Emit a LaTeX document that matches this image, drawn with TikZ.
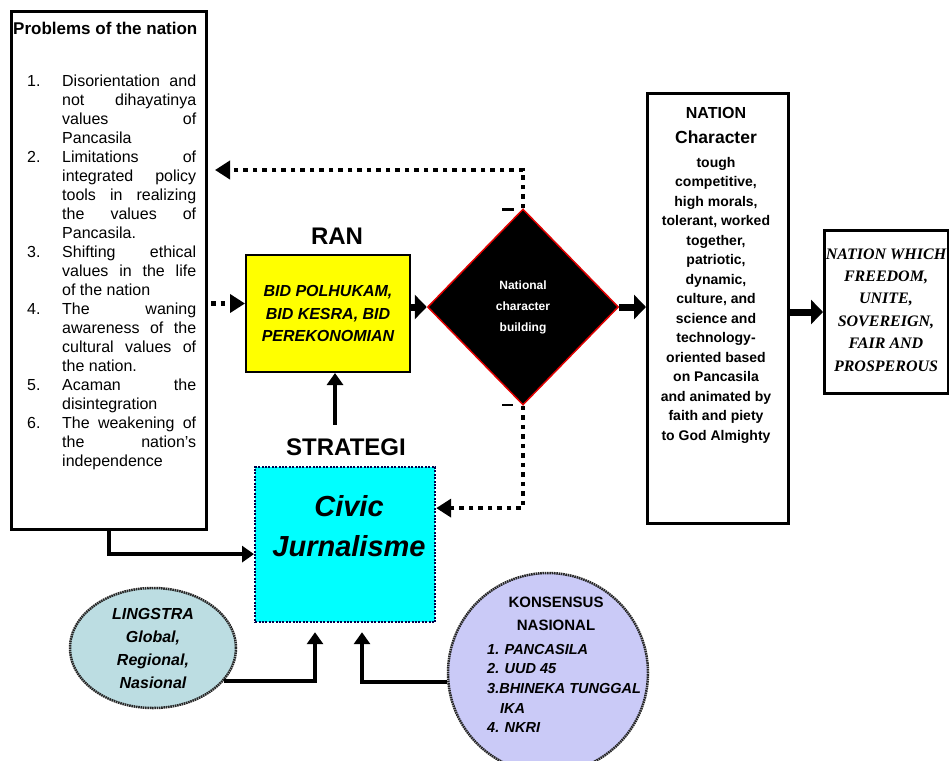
\documentclass[tikz,border=0pt]{standalone}
\usepackage{fontspec}
\setmainfont{Liberation Sans}
\newfontfamily\timesf{Liberation Serif}
\usetikzlibrary{shapes.geometric,arrows.meta,calc}
\definecolor{ylw}{HTML}{FFFF00}
\definecolor{cyn}{HTML}{00FFFF}
\definecolor{tealfill}{HTML}{BCDDE2}
\definecolor{lavfill}{HTML}{CACAF7}
\definecolor{redb}{HTML}{E00000}
\newcommand{\jline}[1]{\makebox[134pt][s]{#1}}
\newcommand{\lline}[1]{\makebox[134pt][l]{#1}}
\newcommand{\inum}[1]{\makebox[35pt][l]{#1}}
\begin{document}
\begin{tikzpicture}[x=1pt,y=-1pt,
  tarr/.style={line width=7pt,-{Triangle[length=12pt,width=24pt]}},
  marr/.style={line width=4pt,-{Triangle[length=12pt,width=16pt]}},
  darr/.style={line width=4.5pt,dash pattern=on 4.5pt off 5pt,-{Triangle[length=15pt,width=18pt]}},
  bigbox/.style={draw,line width=3pt,inner sep=0,anchor=north west},
  roughb/.style={draw=black!85,line width=2.5pt,dash pattern=on 1.6pt off 0.7pt}]
\fill[white] (0,0) rectangle (949,760);
\useasboundingbox (0,0) rectangle (949,760);

% Problems box
\node[bigbox,minimum width=195pt,minimum height=518pt] (prob) at (10,10) {};
\node[anchor=base west,inner sep=0,font=\bfseries\fontsize{17}{20}\selectfont] (probt) at (13,35) {Problems of the nation};
\node[anchor=base west,inner sep=0] (probl) at (27,86) {\parbox[t]{172pt}{\fontsize{16}{19}\selectfont
\inum{1.}\jline{Disorientation and}\\
\inum{}\jline{not dihayatinya}\\
\inum{}\jline{values of}\\
\inum{}\lline{Pancasila}\\
\inum{2.}\jline{Limitations of}\\
\inum{}\jline{integrated policy}\\
\inum{}\jline{tools in realizing}\\
\inum{}\jline{the values of}\\
\inum{}\lline{Pancasila.}\\
\inum{3.}\jline{Shifting ethical}\\
\inum{}\jline{values in the life}\\
\inum{}\lline{of the nation}\\
\inum{4.}\jline{The waning}\\
\inum{}\jline{awareness of the}\\
\inum{}\jline{cultural values of}\\
\inum{}\lline{the nation.}\\
\inum{5.}\jline{Acaman the}\\
\inum{}\lline{disintegration}\\
\inum{6.}\jline{The weakening of}\\
\inum{}\jline{the nation’s}\\
\inum{}\lline{independence}}};

% RAN
\node[font=\bfseries\fontsize{24}{28}\selectfont] (ran) at (337,236) {RAN};
\node[draw,line width=2pt,fill=ylw,minimum width=164pt,minimum height=117pt,inner sep=0,align=center,
  font=\bfseries\itshape\fontsize{16}{22.5}\selectfont] (yel) at (328,313.5) {BID POLHUKAM,\\BID KESRA, BID\\PEREKONOMIAN};

% Diamond
\node[diamond,draw=redb,line width=1.5pt,fill=black,minimum width=191pt,minimum height=196pt,inner sep=0,
  text=white,align=center,font=\bfseries\fontsize{12}{21}\selectfont] (dia) at (523,307) {National\\character\\building};

% Nation character box
\node[bigbox,minimum width=141pt,minimum height=430pt] (nat) at (646,92) {};
\node[anchor=base,inner sep=0,font=\bfseries\fontsize{16}{19}\selectfont] (natt) at (716,118) {NATION};
\node[anchor=base,inner sep=0,font=\bfseries\fontsize{17.5}{20}\selectfont] (natc) at (716,143) {Character};
\node[anchor=base,inner sep=0] (natl) at (716,167) {\parbox[t]{140pt}{\centering\bfseries\fontsize{14}{19.5}\selectfont
tough\\competitive,\\high morals,\\tolerant, worked\\together,\\patriotic,\\dynamic,\\culture, and\\science and\\technology-\\oriented based\\on Pancasila\\and animated by\\faith and piety\\to God Almighty}};

% Final box
\node[bigbox,minimum width=124pt,minimum height=163pt] (fin) at (823,229) {};
\node[anchor=base,inner sep=0] (fint) at (886,259) {\parbox[t]{140pt}{\centering\timesf\bfseries\itshape\fontsize{16}{22.4}\selectfont
NATION WHICH\\FREEDOM,\\UNITE,\\SOVEREIGN,\\FAIR AND\\PROSPEROUS}};

% Strategi and civic
\node[font=\bfseries\fontsize{24}{28}\selectfont] (strat) at (346,447) {STRATEGI};
\node[draw=black!70!blue,line width=2.2pt,dash pattern=on 2pt off 1.4pt,fill=cyn,minimum width=180pt,minimum height=155pt,
  inner sep=0,anchor=north west] (cyan) at (254,466) {};
\node[align=center,inner sep=0,font=\bfseries\itshape\fontsize{29}{40}\selectfont] (civt) at (349,526) {Civic\\Jurnalisme};

% Lingstra
\node[ellipse,roughb,fill=tealfill,minimum width=166pt,minimum height=120pt,inner sep=0,align=center,
  font=\bfseries\itshape\fontsize{16}{23}\selectfont] (ling) at (153,648) {LINGSTRA\\Global,\\Regional,\\Nasional};

% Konsensus
\node[circle,roughb,fill=lavfill,minimum size=200pt,inner sep=0] (kon) at (548,673) {};
\node[align=center,inner sep=0,font=\bfseries\fontsize{15}{23}\selectfont] (kont) at (556,613.5) {KONSENSUS\\NASIONAL};
\node[anchor=base west,inner sep=0] (konl) at (487,654) {\parbox[t]{170pt}{\bfseries\itshape\fontsize{14.5}{19.7}\selectfont
1. PANCASILA\\2. UUD 45\\3.BHINEKA TUNGGAL\\\hspace*{13pt}IKA\\4. NKRI}};

% helper coordinates
\coordinate (y1) at ($(yel.west)+(0,-10)$);
\coordinate (x1) at ($(yel.south)+(7,0)$);
\coordinate (y2) at ($(cyan.east)+(0,-36.5)$);
\coordinate (y3) at ($(cyan.west)+(0,9.5)$);
\coordinate (x2) at ($(cyan.south west)+(61,0)$);
\coordinate (x3) at ($(cyan.south west)+(108,0)$);

% connectors
\draw[darr,shorten >=7pt] (dia.north) |- (prob.east |- 0,170);
\draw[darr,shorten <=3pt] (prob.east |- y1) -- (y1);
\draw[tarr] (yel.east |- dia.west) -- (dia.west);
\draw[tarr] (dia.east) -- (nat.west |- dia.east);
\draw[tarr] (nat.east |- fin.west) -- (fin.west);
\draw[marr,shorten <=10pt] (strat.north -| x1) -- (x1);
\draw[darr] (dia.south) |- (y2);
\draw[marr] (prob.south) |- (y3);
\draw[marr,shorten >=9pt] (ling.-25) -| (x2);
\draw[marr,shorten >=9pt] (kon.185) -| (x3);

% small marks at diamond tips
\draw[line width=2.5pt] ($(dia.north)+(-21,1)$) -- ($(dia.north)+(-9,1)$);
\draw[line width=2.5pt] ($(dia.south)+(-21,-1)$) -- ($(dia.south)+(-10,-1)$);
\end{tikzpicture}
\end{document}
